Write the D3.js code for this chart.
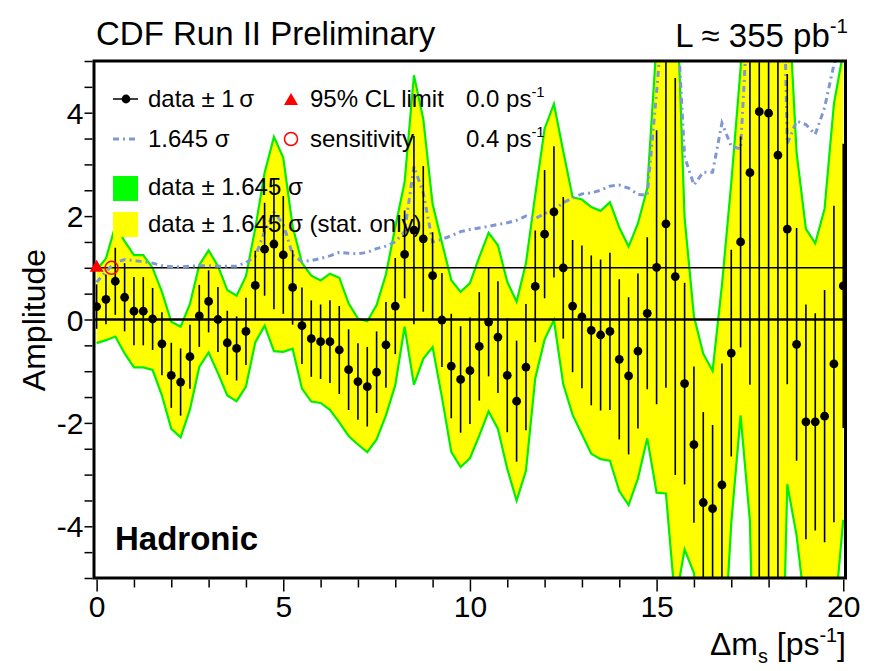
<!DOCTYPE html>
<html>
<head>
<meta charset="utf-8">
<script src="https://cdn.jsdelivr.net/npm/d3@7"></script>
<style>
body { margin: 0; background: #fff; }
text { font-family: "Liberation Sans", Arial, Helvetica, sans-serif; fill: #000; }
</style>
</head>
<body>
<svg></svg>
<script>
// amplitude scan, hadronic channel

// scan points (delta m_s, ps^-1)
var dms = [0, 0.25, 0.5, 0.75, 1, 1.25, 1.5, 1.75, 2, 2.25, 2.5, 2.75, 3, 3.25, 3.5, 3.75,
  4, 4.25, 4.5, 4.75, 5, 5.25, 5.5, 5.75, 6, 6.25, 6.5, 6.75, 7, 7.25, 7.5, 7.75,
  8, 8.25, 8.5, 8.75, 9, 9.25, 9.5, 9.75, 10, 10.25, 10.5, 10.75, 11, 11.25, 11.5, 11.75,
  12, 12.25, 12.5, 12.75, 13, 13.25, 13.5, 13.75, 14, 14.25, 14.5, 14.75, 15, 15.25, 15.5, 15.75,
  16, 16.25, 16.5, 16.75, 17, 17.25, 17.5, 17.75, 18, 18.25, 18.5, 18.75, 19, 19.25, 19.5, 19.75, 20];

// measured amplitude
var amp = [0.25, 0.39, 0.74, 0.43, 0.16, 0.16, 0.01, -0.47, -1.08, -1.21, -0.72, 0.07, 0.35, 0.0, -0.45, -0.56,
  -0.23, 0.66, 1.36, 1.46, 1.25, 0.62, -0.12, -0.37, -0.43, -0.43, -0.59, -0.97, -1.2, -1.3, -1.02, -0.49,
  0.26, 1.26, 1.73, 1.56, 0.85, -0.01, -0.9, -1.16, -0.99, -0.52, -0.05, -0.34, -1.08, -1.58, -0.92, 0.64,
  1.65, 2.08, 1.0, 0.26, 0.05, -0.21, -0.3, -0.23, -0.77, -1.09, -0.61, 0.12, 1.01, 1.85, 0.83, -1.24,
  -2.42, -3.54, -3.66, -3.2, -0.65, 1.5, 2.84, 4.02, 3.99, 3.18, 1.75, -0.48, -1.98, -1.98, -1.87, -0.86, 0.65];

// 1 sigma uncertainty
var sigma = [0.43, 0.48, 0.65, 0.66, 0.66, 0.66, 0.6, 0.61, 0.63, 0.65, 0.62, 0.6, 0.6, 0.63, 0.62, 0.62,
  0.65, 0.67, 0.9, 1.26, 1.14, 0.72, 0.74, 0.74, 0.72, 0.8, 0.85, 0.78, 0.74, 0.77, 0.79, 0.83,
  0.93, 0.85, 1.82, 1.41, 0.84, 0.91, 1.01, 1.03, 1.03, 1.05, 1.05, 1.08, 1.1, 1.17, 1.22, 1.08,
  1.24, 1.27, 1.37, 1.28, 1.38, 1.45, 1.46, 1.52, 1.55, 1.52, 1.5, 1.47, 2.65, 3.17, 3.84, 1.95,
  1.51, 1.75, 1.62, 2.35, 2.0, 2.04, 4.1, 9.5, 9.0, 8.5, 3.0, 2.25, 2.27, 2.1, 2.44, 3.06, 2.75];

// 1.645 sigma sensitivity curve
var sens = [0.72, 0.93, 1.1, 1.16, 1.14, 1.12, 1.09, 1.04, 1.02, 1.02, 1.03, 1.04, 1.04, 1.03, 1.03, 1.03,
  1.1, 1.22, 1.7, 2.07, 1.85, 1.25, 1.12, 1.14, 1.18, 1.23, 1.3, 1.28, 1.27, 1.3, 1.37, 1.42,
  1.5, 1.7, 2.96, 2.45, 1.5, 1.55, 1.62, 1.7, 1.74, 1.77, 1.8, 1.84, 1.87, 1.92, 2.0, 1.95,
  2.05, 2.12, 2.26, 2.35, 2.43, 2.45, 2.5, 2.58, 2.6, 2.54, 2.42, 2.4, 4.4, 6.6, 6.5, 3.15,
  2.6, 2.85, 2.85, 3.8, 3.35, 3.3, 6.7, 9.0, 9.0, 12.0, 3.4, 3.84, 3.77, 3.58, 4.1, 4.93, 5.5];

var limitDms = 0.0;
var sensDms = 0.4;
var yTickLabels = [-4, -2, 0, 2, 4];
var xTickLabels = [0, 5, 10, 15, 20];

var width = 871;
var height = 671;
var font = 30;

var svg = d3.select("svg")
      .attr("width", width)
      .attr("height", height);

var x = d3.scaleLinear().domain([-0.07, 20.06]).range([94, 845.5]);
var y = d3.scaleLinear().domain([-5, 5]).range([578, 61]);

var data = dms.map(function(d, i) {
      return {x: d, a: amp[i], s: sigma[i], l: sens[i]};
});

// text with super/subscripts: parts = [[str, "sup"|"sub"|undefined], ...]
var richText = function(sel, parts, size) {
      var shift = 0;
      parts.forEach(function(p) {
            var target = p[1] === "sup" ? -size * 0.42 : p[1] === "sub" ? size * 0.25 : 0;
            var t = sel.append("tspan").text(p[0]).attr("dy", target - shift);
            if (p[1]) t.attr("font-size", size * 0.62);
            shift = target;
      });
};

svg.append("clipPath").attr("id", "clip").append("rect")
      .attr("x", x.range()[0]).attr("y", y.range()[1])
      .attr("width", x.range()[1] - x.range()[0])
      .attr("height", y.range()[0] - y.range()[1]);

var plot = svg.append("g").attr("clip-path", "url(#clip)");

// bands
var band = d3.area()
      .x(d => x(d.x))
      .y0(d => y(d.a - 1.645 * d.s))
      .y1(d => y(d.a + 1.645 * d.s));
var upper = d3.line().x(d => x(d.x)).y(d => y(d.a + 1.645 * d.s));
var lower = d3.line().x(d => x(d.x)).y(d => y(d.a - 1.645 * d.s));

plot.append("path").datum(data).attr("d", band).attr("fill", "#ffff00");
plot.append("path").datum(data).attr("d", upper)
      .attr("fill", "none").attr("stroke", "#00ee00").attr("stroke-width", 2.2);
plot.append("path").datum(data).attr("d", lower)
      .attr("fill", "none").attr("stroke", "#00ee00").attr("stroke-width", 2.2);

// reference lines at 0 and 1
plot.append("line")
      .attr("x1", x.range()[0]).attr("x2", x.range()[1])
      .attr("y1", y(1)).attr("y2", y(1))
      .attr("stroke", "#000").attr("stroke-width", 1.5);
plot.append("line")
      .attr("x1", x.range()[0]).attr("x2", x.range()[1])
      .attr("y1", y(0)).attr("y2", y(0))
      .attr("stroke", "#000").attr("stroke-width", 2.6);

// sensitivity curve
var sensLine = d3.line().x(d => x(d.x)).y(d => y(d.l));
plot.append("path").datum(data).attr("d", sensLine)
      .attr("fill", "none").attr("stroke", "#7f98d4").attr("stroke-width", 3)
      .attr("stroke-dasharray", "6,4,2,4");

// error bars and points
plot.selectAll(".err").data(data).enter().append("line")
      .attr("x1", d => x(d.x)).attr("x2", d => x(d.x))
      .attr("y1", d => y(d.a - d.s)).attr("y2", d => y(d.a + d.s))
      .attr("stroke", "#000").attr("stroke-width", 1.6);
plot.selectAll(".pt").data(data).enter().append("circle")
      .attr("cx", d => x(d.x)).attr("cy", d => y(d.a)).attr("r", 4.4)
      .attr("fill", "#000");

// frame
svg.append("rect")
      .attr("x", x.range()[0]).attr("y", y.range()[1])
      .attr("width", x.range()[1] - x.range()[0])
      .attr("height", y.range()[0] - y.range()[1])
      .attr("fill", "none").attr("stroke", "#000").attr("stroke-width", 3);

// axes
var yAxis = d3.axisLeft(y)
      .tickValues(d3.range(-5, 5.01, 0.5))
      .tickSize(8)
      .tickPadding(1)
      .tickFormat(d => yTickLabels.indexOf(d) >= 0 ? String(d) : "");
var gy = svg.append("g").attr("transform", "translate(" + (x.range()[0] - 1.5) + ",0)").call(yAxis);
gy.select(".domain").remove();
gy.selectAll(".tick line").attr("stroke-width", 1.5);
gy.selectAll(".tick text").attr("font-size", font).attr("font-family", null).attr("dy", "0.35em");

var xAxis = d3.axisBottom(x)
      .tickValues(d3.range(0, 20.01, 1))
      .tickSize(8)
      .tickPadding(8)
      .tickFormat(d => xTickLabels.indexOf(d) >= 0 ? String(d) : "");
var gx = svg.append("g").attr("transform", "translate(0," + (y.range()[0] + 1.5) + ")").call(xAxis);
gx.select(".domain").remove();
gx.selectAll(".tick line").attr("stroke-width", 1.5)
      .attr("y2", d => xTickLabels.indexOf(d) >= 0 ? 12 : 8);
gx.selectAll(".tick text").attr("font-size", font).attr("font-family", null);

// limit / sensitivity markers
svg.append("path")
      .attr("d", d3.symbol().type(d3.symbolTriangle).size(85))
      .attr("transform", "translate(" + x(limitDms) + "," + y(1) + ")")
      .attr("fill", "#ff0000");
svg.append("circle")
      .attr("cx", x(sensDms)).attr("cy", y(1)).attr("r", 6.5)
      .attr("fill", "none").attr("stroke", "#ff0000").attr("stroke-width", 1.5);

// titles
svg.append("text").attr("x", 96).attr("y", 45).attr("font-size", 33)
      .text("CDF Run II Preliminary");
richText(svg.append("text").attr("x", 848).attr("y", 47).attr("font-size", 33)
      .attr("text-anchor", "end"), [["L \u2248 355 pb"], ["-1", "sup"]], 33);
svg.append("text")
      .attr("transform", "translate(45,320) rotate(-90)")
      .attr("text-anchor", "middle").attr("font-size", 32)
      .text("Amplitude");
richText(svg.append("text").attr("x", 846).attr("y", 655).attr("font-size", 32)
      .attr("text-anchor", "end"),
      [["\u0394m"], ["s", "sub"], [" [ps"], ["-1", "sup"], ["]"]], 32);
svg.append("text").attr("x", 115).attr("y", 550).attr("font-size", 33)
      .attr("font-weight", "bold").text("Hadronic");

// legend
var lf = 24;
var leg = svg.append("g");
leg.append("line").attr("x1", 113).attr("x2", 138).attr("y1", 99).attr("y2", 99)
      .attr("stroke", "#000").attr("stroke-width", 1.5);
leg.append("circle").attr("cx", 126).attr("cy", 99).attr("r", 4.4).attr("fill", "#000");
leg.append("text").attr("x", 148).attr("y", 107).attr("font-size", lf).text("data \u00b1 1\u2009\u03c3");

leg.append("line").attr("x1", 113).attr("x2", 138).attr("y1", 139).attr("y2", 139)
      .attr("stroke", "#7f98d4").attr("stroke-width", 3).attr("stroke-dasharray", "6,4,2,4");
leg.append("text").attr("x", 148).attr("y", 147).attr("font-size", lf).text("1.645 \u03c3");

leg.append("rect").attr("x", 113).attr("y", 176).attr("width", 25).attr("height", 25).attr("fill", "#00ff00");
leg.append("text").attr("x", 148).attr("y", 195).attr("font-size", lf).text("data \u00b1 1.645 \u03c3");
leg.append("rect").attr("x", 113).attr("y", 212).attr("width", 25).attr("height", 25).attr("fill", "#ffff00");
leg.append("text").attr("x", 148).attr("y", 232).attr("font-size", lf).text("data \u00b1 1.645 \u03c3 (stat. only)");

leg.append("path")
      .attr("d", d3.symbol().type(d3.symbolTriangle).size(85))
      .attr("transform", "translate(291,101)").attr("fill", "#ff0000");
leg.append("text").attr("x", 310).attr("y", 107).attr("font-size", lf).text("95% CL limit");
leg.append("circle").attr("cx", 291).attr("cy", 139).attr("r", 6.5)
      .attr("fill", "none").attr("stroke", "#ff0000").attr("stroke-width", 1.5);
leg.append("text").attr("x", 310).attr("y", 147).attr("font-size", lf).text("sensitivity");

richText(leg.append("text").attr("x", 466).attr("y", 107).attr("font-size", lf),
      [[d3.format(".1f")(limitDms) + " ps"], ["-1", "sup"]], lf);
richText(leg.append("text").attr("x", 466).attr("y", 147).attr("font-size", lf),
      [[d3.format(".1f")(sensDms) + " ps"], ["-1", "sup"]], lf);
</script>
</body>
</html>
